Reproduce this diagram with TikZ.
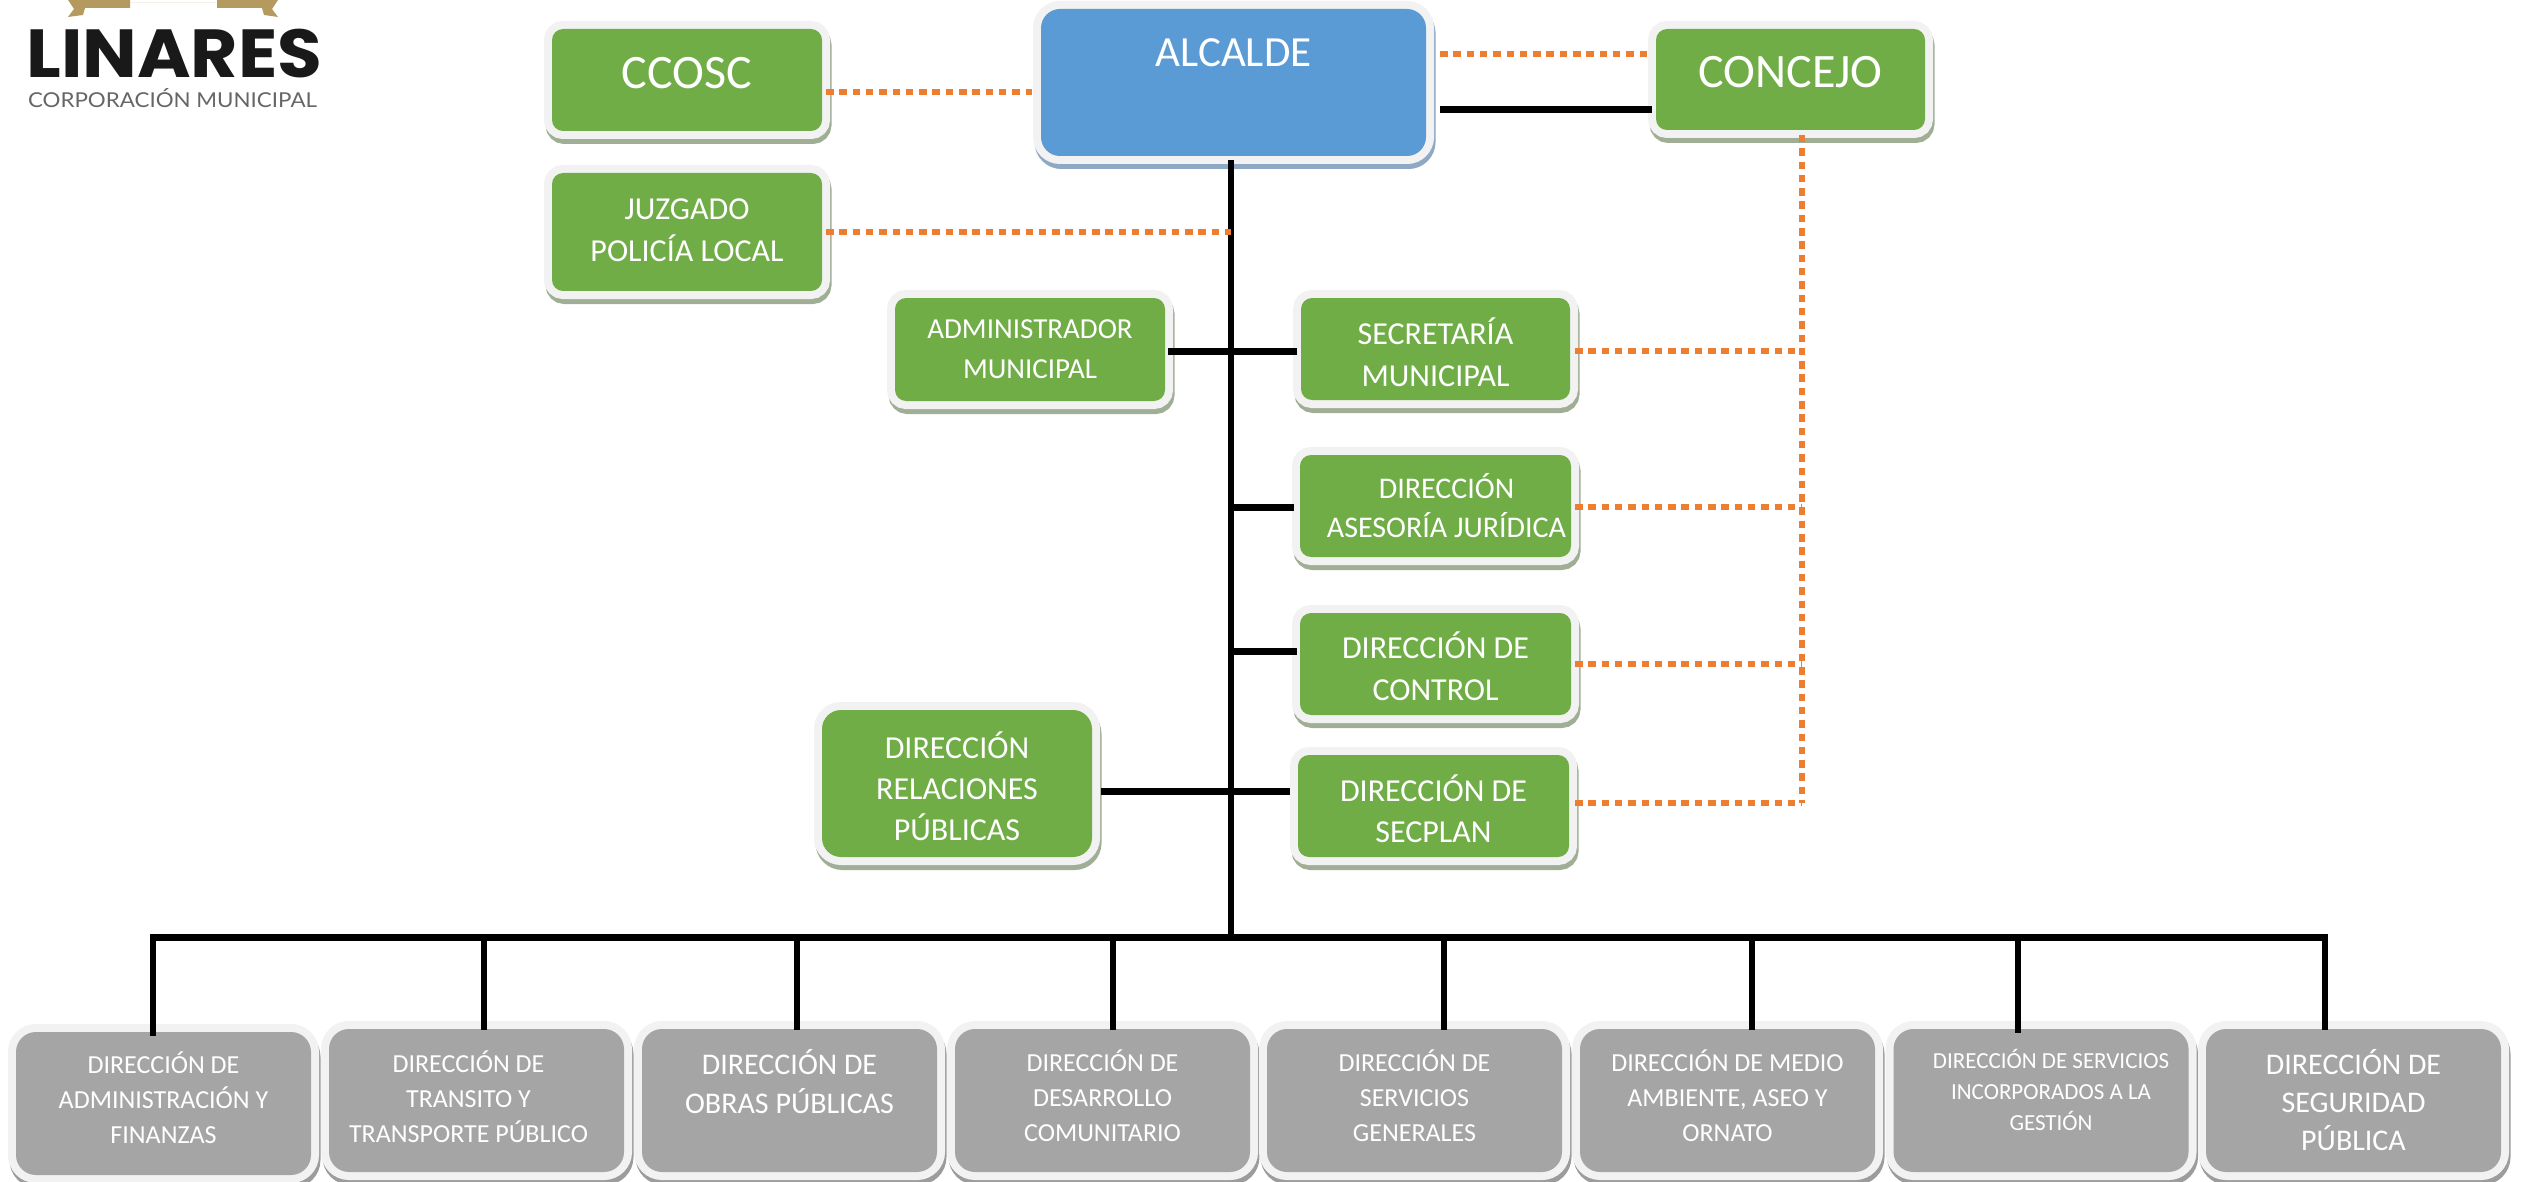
\documentclass[tikz,border=0pt]{standalone}
\usepackage{fontspec}
\setmainfont{Carlito}
\newfontfamily\logofont{Poppins}[FakeStretch=1.07]
\newfontfamily\sublogofont{Lato}[FakeStretch=1.09]
\usetikzlibrary{shadows}
\definecolor{boxgreen}{HTML}{70AD47}
\definecolor{boxblue}{HTML}{5B9BD5}
\definecolor{boxgray}{HTML}{A5A5A5}
\definecolor{rim}{HTML}{F2F2F2}
\definecolor{shgreen}{HTML}{A0AE96}
\definecolor{shblue}{HTML}{8FA8C4}
\definecolor{shgray}{HTML}{9C9C9C}
\definecolor{dotorange}{HTML}{ED7D31}
\definecolor{ribbon}{HTML}{B59A5F}
\begin{document}
\begin{tikzpicture}[
                x = 1pt, y = -1pt,
                box/.style = {inner sep = 0pt, outer sep = 0pt},
                gbox/.style = {box, rounded corners = 11pt, fill = boxgreen,
                    drop shadow = {opacity = 1, fill = shgreen, draw = shgreen, line width = 16pt, shadow xshift = 1.5pt, shadow yshift = -5pt},
                    preaction = {draw = rim, line width = 16pt}},
                bbox/.style = {box, rounded corners = 19pt, fill = boxblue,
                    drop shadow = {opacity = 1, fill = shblue, draw = shblue, line width = 16pt, shadow xshift = 1.5pt, shadow yshift = -5pt},
                    preaction = {draw = rim, line width = 16pt}},
                gybox/.style = {box, rounded corners = 20pt, fill = boxgray, minimum width = 295pt, minimum height = 143pt,
                    drop shadow = {opacity = 1, fill = shgray, draw = shgray, line width = 16pt, shadow xshift = 1.5pt, shadow yshift = -5pt},
                    preaction = {draw = rim, line width = 16pt}},
                lbl/.style 2 args = {text = white, align = center, inner sep = 0pt, font = \fontsize{#1}{#2}\selectfont},
                arr/.style = {draw, line width = 6.3pt},
                bar/.style = {draw, line width = 7pt},
                dots/.style = {draw = dotorange, line width = 5.8pt, dash pattern = on 7.5pt off 5.8pt},
            ]
            \useasboundingbox (0,0) rectangle (2521,1182);

            % logo
            \fill[ribbon] (68,0) -- (84,0) -- (84,0) -- (130,0) -- (130,3) -- (217,3) -- (217,0) -- (278,0) -- (272,9) -- (278,17) -- (264,15) -- (262,8) -- (217,8) -- (217,3) -- (130,3) -- (130,8) -- (85,8) -- (83,15) -- (68,17) -- (74,9) -- cycle;
            \node (LOGO) [inner sep = 0pt, text height = 47pt, text depth = 0pt, font = \logofont\bfseries\fontsize{68}{68}\selectfont, text = black!90] at (174.5,54.5) {LINARES};
            \node (SUBLOGO) [inner sep = 0pt, font = \sublogofont\fontsize{20.5}{20.5}\selectfont, text = black!60] at (172.5,98) {CORPORACIÓN MUNICIPAL};

            % top
            \node (CCOSC) [gbox, minimum width = 270pt, minimum height = 102pt, label = {[lbl={48}{52}, yshift = 7pt]center:CCOSC}] at (687,80) {};
            \node (JUZGADO) [gbox, minimum width = 270pt, minimum height = 118pt, label = {[lbl={32}{42}, yshift = 2pt]center:{JUZGADO\\POLICÍA LOCAL}}] at (687,232) {};
            \node (ALCALDE) [bbox, minimum width = 385pt, minimum height = 147pt, label = {[lbl={43}{48}, yshift = 30pt]center:ALCALDE}] at (1233.5,82.5) {};
            \node (CONCEJO) [gbox, minimum width = 269pt, minimum height = 101pt, label = {[lbl={48}{52}, yshift = 7pt]center:CONCEJO}] at (1790.5,79.5) {};

            % middle
            \node (ADMIN) [gbox, minimum width = 270pt, minimum height = 103pt, label = {[lbl={29}{40}]center:{ADMINISTRADOR\\MUNICIPAL}}] at (1030,349.5) {};
            \node (SECMUN) [gbox, minimum width = 269pt, minimum height = 102pt, label = {[lbl={32}{42}, yshift = -3pt]center:{SECRETARÍA\\MUNICIPAL}}] at (1435.5,349) {};
            \node (JURID) [gbox, minimum width = 271pt, minimum height = 102pt, label = {[lbl={30}{39}, xshift = 11pt]center:{DIRECCIÓN\\ASESORÍA JURÍDICA}}] at (1435.5,506) {};
            \node (CONTROL) [gbox, minimum width = 271pt, minimum height = 102pt, label = {[lbl={32}{42}, yshift = -2pt]center:{DIRECCIÓN DE\\CONTROL}}] at (1435.5,664) {};
            \node (SECPLAN) [gbox, minimum width = 271pt, minimum height = 102pt, label = {[lbl={32}{41}, yshift = -3pt]center:{DIRECCIÓN DE\\SECPLAN}}] at (1433.5,806) {};
            \node (RELPUB) [gbox, rounded corners = 19pt, minimum width = 270pt, minimum height = 147pt, label = {[lbl={32}{41}, yshift = -3pt]center:{DIRECCIÓN\\RELACIONES\\PÚBLICAS}}] at (957,783.5) {};

            % bottom
            \node (G1) [gybox, label = {[lbl={26}{35}, yshift = 6pt]center:{DIRECCIÓN DE\\ADMINISTRACIÓN Y\\FINANZAS}}] at (163.5,1103.5) {};
            \node (G2) [gybox, label = {[lbl={26}{35}, xshift = -8pt, yshift = 4pt]center:{DIRECCIÓN DE\\TRANSITO Y\\TRANSPORTE PÚBLICO}}] at (476.5,1100.5) {};
            \node (G3) [gybox, label = {[lbl={30}{39}, yshift = 19pt]center:{DIRECCIÓN DE\\OBRAS PÚBLICAS}}] at (789.5,1100.5) {};
            \node (G4) [gybox, label = {[lbl={26}{35}, yshift = 5pt]center:{DIRECCIÓN DE\\DESARROLLO\\COMUNITARIO}}] at (1102.5,1100.5) {};
            \node (G5) [gybox, label = {[lbl={26}{35}, yshift = 5pt]center:{DIRECCIÓN DE\\SERVICIOS\\GENERALES}}] at (1414.5,1100.5) {};
            \node (G6) [gybox, label = {[lbl={26}{35}, yshift = 5pt]center:{DIRECCIÓN DE MEDIO\\AMBIENTE, ASEO Y\\ORNATO}}] at (1727.5,1100.5) {};
            \node (G7) [gybox, label = {[lbl={23}{31}, xshift = 10pt, yshift = 11pt]center:{DIRECCIÓN DE SERVICIOS\\INCORPORADOS A LA\\GESTIÓN}}] at (2041,1100.5) {};
            \node (G8) [gybox, label = {[lbl={30}{38}, yshift = 0pt]center:{DIRECCIÓN DE\\SEGURIDAD\\PÚBLICA}}] at (2353.5,1100.5) {};

            \coordinate (T1) at (1231,232);
            \coordinate (T2) at (1231,507);
            \coordinate (T3) at (1231,651);
            \coordinate (T4) at (1231,937);
            \coordinate (B1) at (153,937);
            \coordinate (B2) at (484,937);
            \coordinate (B3) at (797,937);
            \coordinate (B4) at (1113,937);
            \coordinate (B5) at (1444,937);
            \coordinate (B6) at (1752,937);
            \coordinate (B7) at (2018,937);
            \coordinate (B8) at (2325,937);
            \coordinate (K0) at (1802,135);
            \coordinate (K1) at (1802,351);
            \coordinate (K2) at (1802,507);
            \coordinate (K3) at (1802,664);
            \coordinate (K4) at (1802,803);

            \path[arr] ([shift={(-2.5,4)}]ALCALDE.south) -- (T4);
            \path[bar] ([xshift=-3]B1) -- ([xshift=3]B8);
            \path[bar] ([shift={(14,27.5)}]ALCALDE.east) -- ([shift={(-4,30.5)}]CONCEJO.west);
            \path[bar] ([shift={(3,1.5)}]ADMIN.east) -- ([shift={(-4,2)}]SECMUN.west);
            \path[bar] ([shift={(9,7.5)}]RELPUB.east) -- ([shift={(-8,-15)}]SECPLAN.west);
            \path[bar] (T2) -- ([shift={(-6,1)}]JURID.west);
            \path[bar] (T3) -- ([shift={(-3,-13)}]CONTROL.west);

            \path[arr] (B1) -- ([yshift=-4]B1 |- G1.north);
            \path[arr] (B2) -- ([yshift=-1]B2 |- G2.north);
            \path[arr] (B3) -- ([yshift=-1]B3 |- G3.north);
            \path[arr] (B4) -- ([yshift=-1]B4 |- G4.north);
            \path[arr] (B5) -- ([yshift=-1]B5 |- G5.north);
            \path[arr] (B6) -- ([yshift=-1]B6 |- G6.north);
            \path[arr] (B7) -- ([yshift=-4]B7 |- G7.north);
            \path[arr] (B8) -- ([yshift=-1]B8 |- G8.north);

            \path[dots] ([shift={(4,12)}]CCOSC.east) -- ([shift={(-9,9.5)}]ALCALDE.west);
            \path[dots] ([shift={(4,0)}]JUZGADO.east) -- (T1);
            \path[dots] ([shift={(14,-28.5)}]ALCALDE.east) -- ([shift={(-6,-25.5)}]CONCEJO.west);
            \path[dots] (K0) -- (K4);
            \path[dots] ([shift={(5,2)}]SECMUN.east) -- (K1);
            \path[dots] ([shift={(4,1)}]JURID.east) -- (K2);
            \path[dots] ([shift={(4,0)}]CONTROL.east) -- (K3);
            \path[dots] ([shift={(6,-3)}]SECPLAN.east) -- (K4);
        \end{tikzpicture}
\end{document}
